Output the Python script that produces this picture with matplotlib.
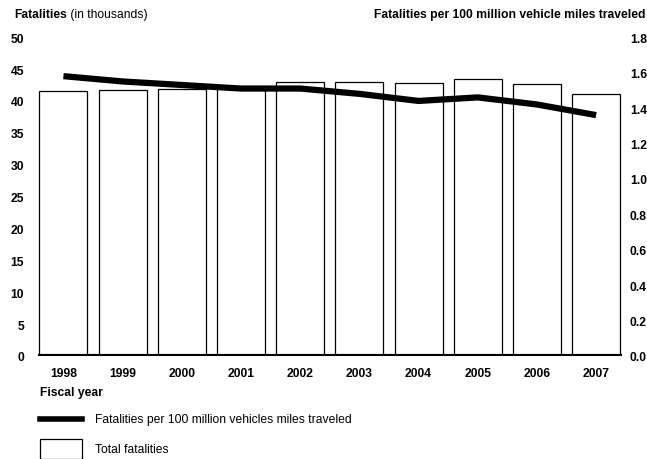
import matplotlib.pyplot as plt
from matplotlib.lines import Line2D
from matplotlib.patches import Rectangle

plt.rcParams['font.family'] = ['Liberation Sans', 'DejaVu Sans']

years = ['1998', '1999', '2000', '2001', '2002', '2003', '2004', '2005', '2006', '2007']
fatalities = [41.5, 41.7, 41.9, 42.2, 43.0, 42.9, 42.8, 43.5, 42.7, 41.1]  # thousands
rate = [1.58, 1.55, 1.53, 1.51, 1.51, 1.48, 1.44, 1.46, 1.42, 1.36]
left_ticks = [0, 5, 10, 15, 20, 25, 30, 35, 40, 45, 50]
right_ticks = [0.0, 0.2, 0.4, 0.6, 0.8, 1.0, 1.2, 1.4, 1.6, 1.8]

fs = 8.7

fig = plt.figure(figsize=(6.47, 4.6), dpi=100)
ax = fig.add_axes([0.0587, 0.224, 0.902, 0.693])
ax2 = ax.twinx()

x = list(range(len(years)))
ax.bar(x, fatalities, width=0.81, color='white', edgecolor='black', linewidth=0.9)
ax.axhline(0, color='black', linewidth=3, zorder=5)
ax.set_ylim(0, 50)
ax.set_xlim(-0.43, 9.43)
ax.set_xticks(x)
ax.set_xticklabels(years, fontsize=fs, fontweight='bold')
ax.set_yticks(left_ticks)
ax.set_yticklabels([str(t) for t in left_ticks], fontsize=fs, fontweight='bold')
ax.tick_params(axis='both', length=0, pad=8)
ax.tick_params(axis='y', pad=10)

ax2.plot(x, rate, color='black', linewidth=4.5, solid_capstyle='butt')
ax2.set_ylim(0, 1.8)
ax2.set_yticks(right_ticks)
ax2.set_yticklabels([f'{t:.1f}' for t in right_ticks], fontsize=fs, fontweight='bold')
ax2.tick_params(axis='y', length=0, pad=6)

for a in (ax, ax2):
    for s in a.spines.values():
        s.set_visible(False)

# titles
t1 = fig.text(0.022, 0.968, 'Fatalities', fontsize=fs, fontweight='bold', va='center')
ax.annotate(' (in thousands)', xy=(1, 0.5), xycoords=t1, fontsize=fs, va='center',
            annotation_clip=False)
fig.text(0.998, 0.968, 'Fatalities per 100 million vehicle miles traveled',
         fontsize=fs, fontweight='bold', va='center', ha='right')
fig.text(0.062, 0.145, 'Fiscal year', fontsize=fs, fontweight='bold', va='center')

# legend
fig.add_artist(Line2D([0.062, 0.127], [0.087, 0.087], color='black', linewidth=4,
                      transform=fig.transFigure))
fig.text(0.147, 0.087, 'Fatalities per 100 million vehicles miles traveled',
         fontsize=fs, va='center')
fig.add_artist(Rectangle((0.062, 0.0), 0.065, 0.043, facecolor='white', edgecolor='black',
                         linewidth=0.9, transform=fig.transFigure))
fig.text(0.147, 0.022, 'Total fatalities', fontsize=fs, va='center')

fig.savefig('out.png', dpi=100)
